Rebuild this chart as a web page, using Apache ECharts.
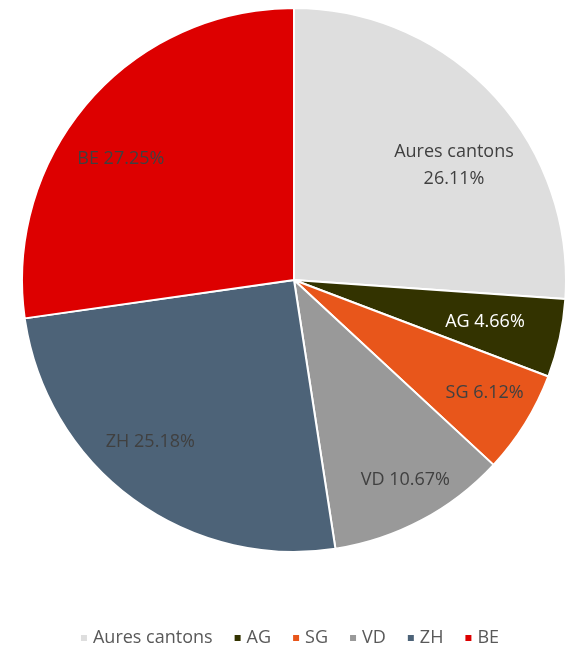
<!DOCTYPE html>
<html>
<head>
<meta charset="utf-8">
<script src="https://cdn.jsdelivr.net/npm/echarts@6/dist/echarts.min.js"></script>
<style>
  html, body { margin: 0; padding: 0; background: #fff; }
  #chart { width: 578px; height: 654px; }
</style>
</head>
<body>
<div id="chart"></div>
<script>
const names = ['Aures cantons', 'AG', 'SG', 'VD', 'ZH', 'BE'];
const shares = [26.11, 4.66, 6.12, 10.67, 25.18, 27.25];
const colors = ['#dedede', '#333300', '#e8561b', '#999999', '#4d6378', '#dd0000'];
const labelColors = ['#404040', '#ffffff', '#404040', '#404040', '#404040', '#404040'];
// small label nudges [dx, dy] to match where the original placed its labels
const labelNudge = [[2, 33], [-20, -4], [7, -1], [10, 9], [-15, -12], [-10, 20]];

const chart = echarts.init(document.getElementById('chart'));

const slices = names.map((n, i) => ({
    name: n,
    value: shares[i],
    itemStyle: { color: colors[i] }
}));

// second transparent ring only used to place labels further out than the default midpoint
const labelSlices = names.map((n, i) => ({
    name: n,
    value: shares[i],
    itemStyle: { color: 'rgba(0,0,0,0)', borderWidth: 0 },
    label: {
        color: labelColors[i],
        formatter: i === 0 ? '{b}\n{c}%' : '{b} {c}%'
    }
}));

const option = {
    animation: false,
    color: colors,
    legend: {
        bottom: 2,
        left: 'center',
        icon: 'rect',
        itemWidth: 8,
        itemHeight: 8,
        itemGap: 20,
        data: names,
        textStyle: { color: '#595959', fontSize: 18, fontFamily: 'Open Sans' }
    },
    series: [
        {
            type: 'pie',
            center: [294, 280],
            radius: [0, 272],
            startAngle: 90,
            silent: true,
            label: { show: false },
            labelLine: { show: false },
            itemStyle: { borderColor: '#ffffff', borderWidth: 2 },
            data: slices
        },
        {
            type: 'pie',
            center: [294, 280],
            radius: [154, 272],
            startAngle: 90,
            silent: true,
            label: {
                show: true,
                position: 'inside',
                fontSize: 18,
                lineHeight: 27,
                fontFamily: 'Open Sans'
            },
            labelLine: { show: false },
            labelLayout: function (params) {
                const d = labelNudge[params.dataIndex];
                return { dx: d[0], dy: d[1] };
            },
            data: labelSlices
        }
    ]
};

chart.setOption(option);
</script>
</body>
</html>
